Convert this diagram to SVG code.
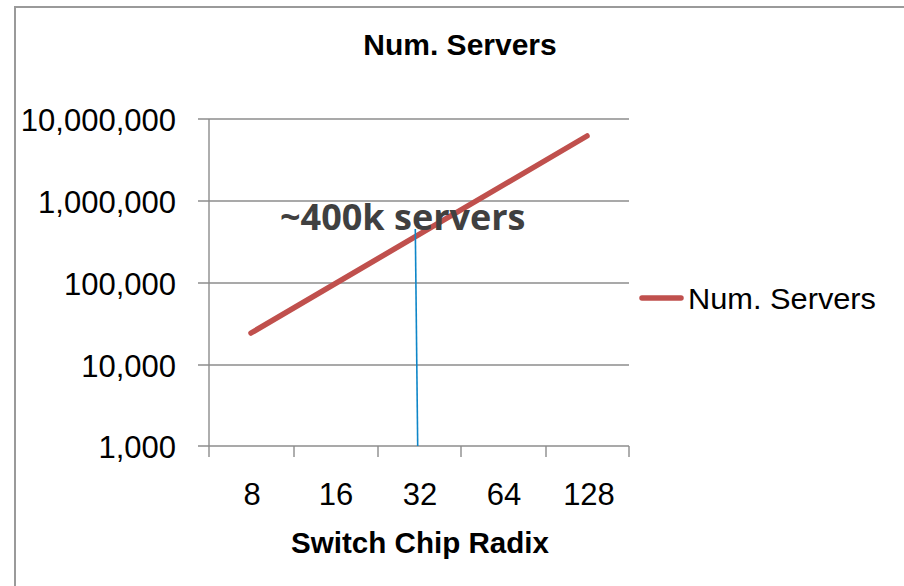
<svg xmlns="http://www.w3.org/2000/svg" width="904" height="586" viewBox="0 0 904 586">
<style>
.grid{stroke:#8c8c8c;stroke-width:1.4;fill:none}
.lbl{font-family:"Liberation Sans",Arial,sans-serif;font-size:30px;fill:#000}
.ylbl{text-anchor:end;font-size:31px}
.xlbl{text-anchor:middle;font-size:31px}
.bold{font-family:"Liberation Sans",Arial,sans-serif;font-weight:bold;fill:#000;text-anchor:middle}
</style>
<rect x="0" y="0" width="904" height="586" fill="#fff"/>
<rect id="frame" x="15" y="7" width="900" height="600" fill="none" stroke="#9a9a9a" stroke-width="2"/>
<text id="title" class="bold" x="460" y="55" font-size="30">Num. Servers</text>
<g id="axes">
  <line class="grid" x1="198" y1="119" x2="629" y2="119"/>
  <line class="grid" x1="198" y1="201" x2="629" y2="201"/>
  <line class="grid" x1="198" y1="283" x2="629" y2="283"/>
  <line class="grid" x1="198" y1="365" x2="629" y2="365"/>
  <line class="grid" x1="198" y1="446" x2="629" y2="446"/>
  <line class="grid" x1="209" y1="119" x2="209" y2="457"/>
  <line class="grid" x1="294" y1="446" x2="294" y2="457"/>
  <line class="grid" x1="378" y1="446" x2="378" y2="457"/>
  <line class="grid" x1="461" y1="446" x2="461" y2="457"/>
  <line class="grid" x1="546" y1="446" x2="546" y2="457"/>
  <line class="grid" x1="629" y1="446" x2="629" y2="457"/>
</g>
<g id="ylabels">
  <text class="lbl ylbl" x="176" y="131">10,000,000</text>
  <text class="lbl ylbl" x="176" y="213">1,000,000</text>
  <text class="lbl ylbl" x="176" y="295">100,000</text>
  <text class="lbl ylbl" x="176" y="377">10,000</text>
  <text class="lbl ylbl" x="176" y="458">1,000</text>
</g>
<g id="xlabels">
  <text class="lbl xlbl" x="252" y="505">8</text>
  <text class="lbl xlbl" x="336" y="505">16</text>
  <text class="lbl xlbl" x="420" y="505">32</text>
  <text class="lbl xlbl" x="504" y="505">64</text>
  <text class="lbl xlbl" x="589" y="505">128</text>
</g>
<text id="xtitle" class="bold" x="420" y="553" font-size="29" textLength="258" lengthAdjust="spacingAndGlyphs">Switch Chip Radix</text>
<g id="connectors">
  <line id="series" x1="251" y1="333" x2="587" y2="136" stroke="#C0504D" stroke-width="5.5" stroke-linecap="round"/>
  <line id="marker" x1="415.3" y1="229" x2="417.7" y2="446" stroke="#0E86C8" stroke-width="1.6"/>
</g>
<text id="annotation" x="280" y="230" font-family="'Open Sans','Liberation Sans',sans-serif" font-weight="bold" font-size="36" fill="#404040">~400k servers</text>
<g id="legend">
  <line x1="642" y1="298" x2="681" y2="298" stroke="#C0504D" stroke-width="5.5" stroke-linecap="round"/>
  <text class="lbl" x="688" y="309" textLength="188" lengthAdjust="spacingAndGlyphs">Num. Servers</text>
</g>
</svg>
